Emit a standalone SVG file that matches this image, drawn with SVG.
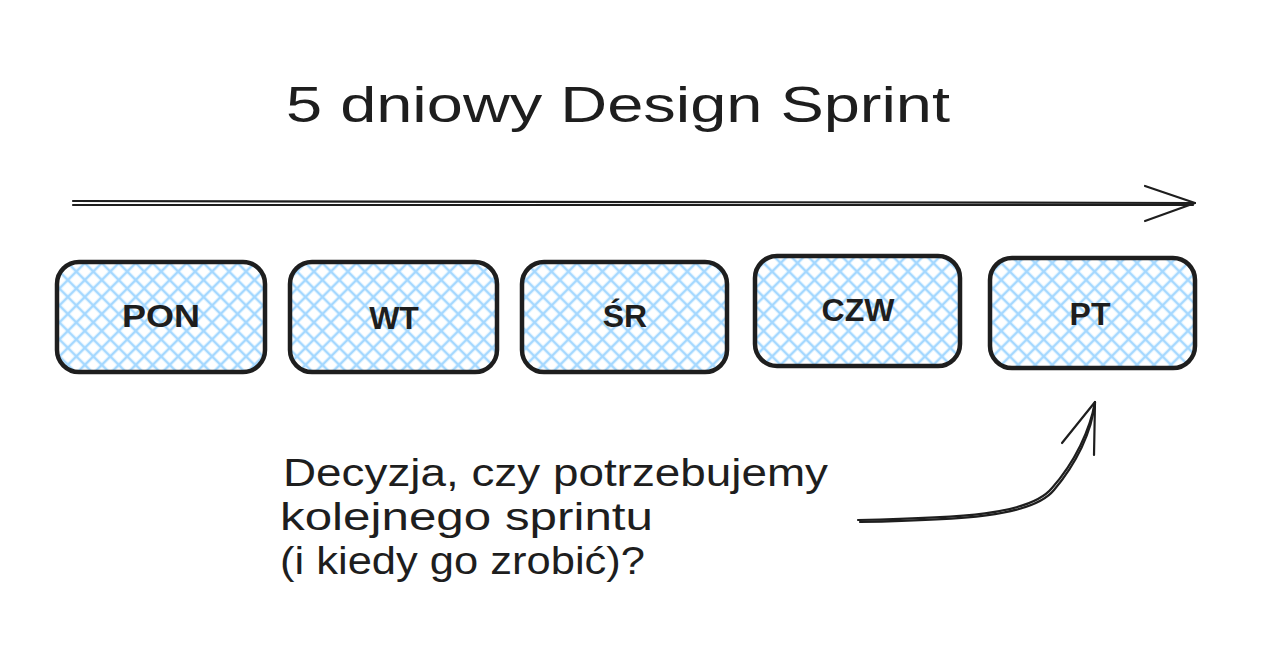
<svg xmlns="http://www.w3.org/2000/svg" width="1270" height="662" viewBox="0 0 1270 662">
<defs>
<pattern id="hatch" width="12" height="12" patternUnits="userSpaceOnUse" patternTransform="rotate(45)">
<line x1="0" y1="6" x2="12" y2="6" stroke="#a5d8ff" stroke-width="2.6"/>
<line x1="6" y1="0" x2="6" y2="12" stroke="#a5d8ff" stroke-width="2.6"/>
</pattern>
<style>
.box{fill:url(#hatch);stroke:#1e1e1e;stroke-width:4.5}
.lbl{font-family:"Liberation Sans",sans-serif;font-size:32px;font-weight:bold;fill:#1e1e1e;text-anchor:middle}
.txt{font-family:"Liberation Sans",sans-serif;fill:#1e1e1e}
.ln{fill:none;stroke:#1e1e1e;stroke-width:2.2;stroke-linecap:round;stroke-linejoin:round}
</style>
</defs>
<rect width="1270" height="662" fill="#ffffff"/>
<text class="txt" x="618" y="122" font-size="50" text-anchor="middle" textLength="664" lengthAdjust="spacingAndGlyphs">5 dniowy Design Sprint</text>
<g id="connectors">
<path class="ln" d="M73 201 L1195 203 M73 205 L1193 205"/>
<path class="ln" d="M1145 186 L1195 203 L1145 221"/>
<path class="ln" d="M858 520 C960 518 1030 515 1052 488 C1075 462 1090 430 1095 402"/>
<path class="ln" d="M860 522 C960 520 1032 517 1054 490 C1076 464 1092 432 1095 402"/>
<path class="ln" d="M1062 443 L1095 402 L1094 455"/>
</g>
<g id="pon"><rect class="box" x="57" y="262" width="208" height="110" rx="22"/><text class="lbl" x="161" y="327" textLength="78" lengthAdjust="spacingAndGlyphs">PON</text></g>
<g id="wt"><rect class="box" x="290" y="262" width="207" height="110" rx="22"/><text class="lbl" x="394" y="329">WT</text></g>
<g id="sr"><rect class="box" x="522" y="262" width="205" height="110" rx="22"/><text class="lbl" x="625" y="327">ŚR</text></g>
<g id="czw"><rect class="box" x="755" y="256" width="205" height="110" rx="22"/><text class="lbl" x="858" y="321">CZW</text></g>
<g id="pt"><rect class="box" x="990" y="258" width="205" height="110" rx="22"/><text class="lbl" x="1090" y="325">PT</text></g>
<g id="note" class="txt" font-size="38">
<text x="283" y="486" textLength="545" lengthAdjust="spacingAndGlyphs">Decyzja, czy potrzebujemy</text>
<text x="280" y="530" textLength="373" lengthAdjust="spacingAndGlyphs">kolejnego sprintu</text>
<text x="280" y="574" textLength="365" lengthAdjust="spacingAndGlyphs">(i kiedy go zrobić)?</text>
</g>
</svg>
